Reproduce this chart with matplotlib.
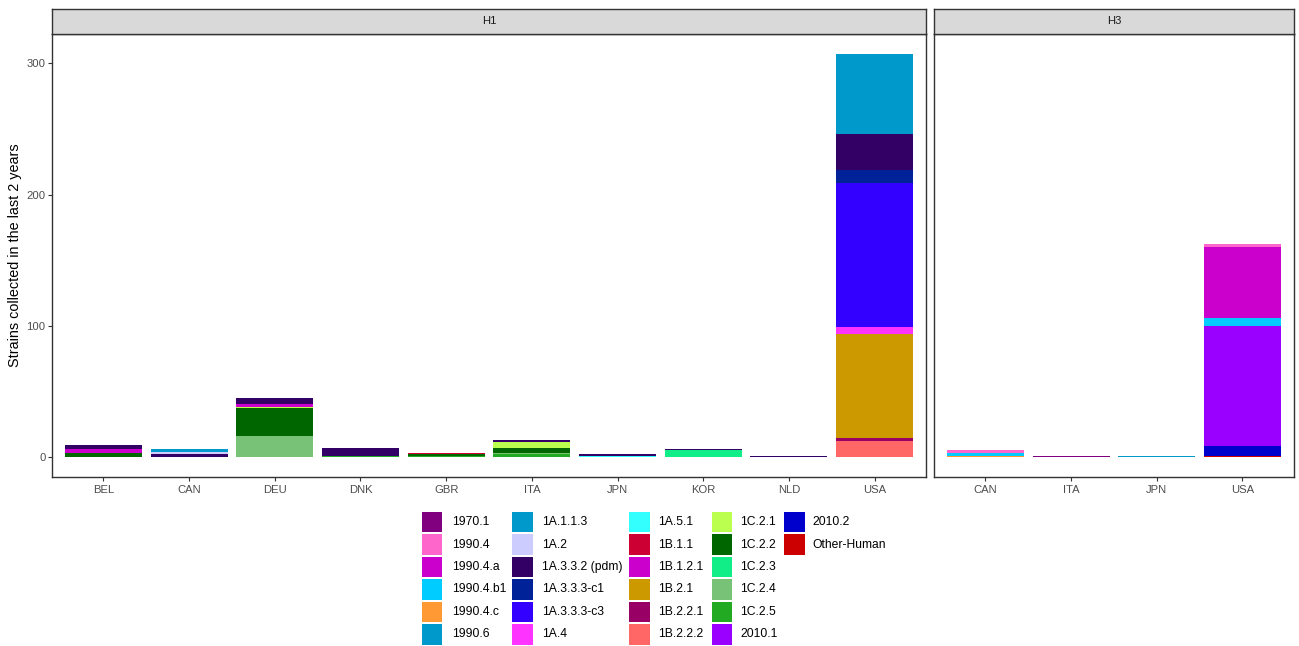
import matplotlib
matplotlib.use("Agg")
import matplotlib.pyplot as plt
from matplotlib.patches import Rectangle

plt.rcParams['font.family'] = ['Liberation Sans', 'DejaVu Sans']

# ---- data -----------------------------------------------------------------
lineages = ["1970.1", "1990.4", "1990.4.a", "1990.4.b1", "1990.4.c", "1990.6",
            "1A.1.1.3", "1A.2", "1A.3.3.2 (pdm)", "1A.3.3.3-c1", "1A.3.3.3-c3",
            "1A.4", "1A.5.1", "1B.1.1", "1B.1.2.1", "1B.2.1", "1B.2.2.1",
            "1B.2.2.2", "1C.2.1", "1C.2.2", "1C.2.3", "1C.2.4", "1C.2.5",
            "2010.1", "2010.2", "Other-Human"]
lineage_colors = ["#800080", "#FF66CC", "#CC00CC", "#00CCFF", "#FF9933", "#0099CC",
                  "#0099CC", "#CCCCFF", "#330066", "#002299", "#3300FF",
                  "#FF33FF", "#33FFFF", "#CC0033", "#CC00CC", "#CC9900", "#990066",
                  "#FF6666", "#BBFF4F", "#006600", "#11EE88", "#77C277", "#22AA22",
                  "#9900FF", "#0000CC", "#CC0000"]

h1_countries = ["BEL", "CAN", "DEU", "DNK", "GBR", "ITA", "JPN", "KOR", "NLD", "USA"]
h1_counts = {
    "1A.1.1.3":       [0, 2, 0, 0, 0, 0, 0, 0, 0, 61],
    "1A.2":           [0, 2, 0, 0, 0, 0, 0, 0, 0, 0],
    "1A.3.3.2 (pdm)": [3, 2, 5, 6, 0, 2, 1, 1, 1, 27],
    "1A.3.3.3-c1":    [0, 0, 0, 0, 0, 0, 0, 0, 0, 10],
    "1A.3.3.3-c3":    [0, 0, 0, 0, 0, 0, 0, 0, 0, 110],
    "1A.4":           [0, 0, 0, 0, 0, 0, 0, 0, 0, 5],
    "1A.5.1":         [0, 0, 0, 0, 0, 0, 1, 0, 0, 0],
    "1B.1.1":         [0, 0, 0, 0, 1, 0, 0, 0, 0, 0],
    "1B.1.2.1":       [3, 0, 2, 0, 0, 0, 0, 0, 0, 0],
    "1B.2.1":         [0, 0, 0, 0, 0, 0, 0, 0, 0, 80],
    "1B.2.2.1":       [0, 0, 0, 0, 0, 0, 0, 0, 0, 2],
    "1B.2.2.2":       [0, 0, 0, 0, 0, 0, 0, 0, 0, 12],
    "1C.2.1":         [0, 0, 1, 0, 0, 4, 0, 0, 0, 0],
    "1C.2.2":         [3, 0, 21, 0, 1, 4, 0, 0, 0, 0],
    "1C.2.3":         [0, 0, 0, 0, 0, 0, 0, 5, 0, 0],
    "1C.2.4":         [0, 0, 16, 0, 0, 1, 0, 0, 0, 0],
    "1C.2.5":         [0, 0, 0, 1, 1, 2, 0, 0, 0, 0],
}

h3_countries = ["CAN", "ITA", "JPN", "USA"]
h3_counts = {
    "1970.1":      [0, 1, 0, 0],
    "1990.4":      [2, 0, 0, 2],
    "1990.4.a":    [0, 0, 0, 54],
    "1990.4.b1":   [2, 0, 0, 6],
    "1990.4.c":    [1, 0, 0, 0],
    "1990.6":      [0, 0, 1, 0],
    "2010.1":      [0, 0, 0, 92],
    "2010.2":      [0, 0, 0, 7],
    "Other-Human": [0, 0, 0, 1],
}

y_ticks = [0, 100, 200, 300]
y_label = "Strains collected in the last 2 years"

# ---- layout helpers -------------------------------------------------------
W, H = 1299, 646
fig = plt.figure(figsize=(W / 100, H / 100), dpi=100)
color_of = dict(zip(lineages, lineage_colors))
EDGE = "#333333"
TXT = "#4D4D4D"
FS_TICK = 8.1
FS_LEG = 8.7


def px_axes(x0, y0, x1, y1):
    return fig.add_axes([x0 / W, 1 - y1 / H, (x1 - x0) / W, (y1 - y0) / H])


totals = []
for counts, n in ((h1_counts, len(h1_countries)), (h3_counts, len(h3_countries))):
    for i in range(n):
        totals.append(sum(v[i] for v in counts.values()))
ymax = max(totals)
ylim = (-0.05 * ymax, 1.05 * ymax)

panel_top, panel_bot = 34, 477
strip_top = 9
left1 = 52
unit = 874 / 10.2
panels = [("H1", h1_countries, h1_counts, left1),
          ("H3", h3_countries, h3_counts, 934)]

for k, (name, countries, counts, x0) in enumerate(panels):
    width = unit * (len(countries) + 0.2)
    ax = px_axes(x0, panel_top, x0 + width, panel_bot)
    xs = list(range(len(countries)))
    bottoms = [0] * len(countries)
    # later lineages sit at the bottom of each stack
    for lin in reversed(lineages):
        if lin not in counts:
            continue
        vals = counts[lin]
        ax.bar(xs, vals, width=0.9, bottom=bottoms, color=color_of[lin],
               linewidth=0)
        bottoms = [b + v for b, v in zip(bottoms, vals)]
    ax.set_xlim(-0.6, len(countries) - 0.4)
    ax.set_ylim(*ylim)
    ax.set_xticks(xs)
    ax.set_xticklabels(countries, fontsize=FS_TICK, color=TXT)
    ax.set_yticks(y_ticks)
    if k == 0:
        ax.set_yticklabels([str(t) for t in y_ticks], fontsize=FS_TICK, color=TXT)
        ax.tick_params(axis="y", length=3.2, width=0.8, color=EDGE, pad=1.5)
    else:
        ax.tick_params(axis="y", left=False, labelleft=False)
    ax.tick_params(axis="x", length=3.2, width=0.8, color=EDGE, pad=2.5)
    for sp in ax.spines.values():
        sp.set_color(EDGE)
        sp.set_linewidth(1.0)
    # facet strip
    sax = px_axes(x0, strip_top, x0 + width, panel_top)
    sax.set_facecolor("#D9D9D9")
    sax.set_xticks([])
    sax.set_yticks([])
    for sp in sax.spines.values():
        sp.set_color(EDGE)
        sp.set_linewidth(1.0)
    sax.text(0.5, 0.5, name, ha="center", va="center", fontsize=FS_TICK,
             color="#1A1A1A", transform=sax.transAxes)

fig.text(15 / W, 1 - ((panel_top + panel_bot) / 2) / H, y_label, rotation=90,
         ha="center", va="center", fontsize=10.4, color="black")

# ---- legend ---------------------------------------------------------------
lax = fig.add_axes([0, 0, 1, 1])
lax.set_xlim(0, W)
lax.set_ylim(H, 0)
lax.axis("off")
key_cols = [421.7, 512.3, 629.3, 711.7, 784.3]
label_cols = [451.7, 541.7, 658.3, 740.0, 812.7]
row0, row_step, key = 511.7, 22.45, 20.7
for i, lin in enumerate(lineages):
    c, r = divmod(i, 6)
    y = row0 + r * row_step
    lax.add_patch(Rectangle((key_cols[c], y), key, key,
                            facecolor=color_of[lin], edgecolor="none"))
    lax.text(label_cols[c], y + key / 2, lin, ha="left", va="center",
             fontsize=FS_LEG, color="black")

fig.savefig("out.png", dpi=100, facecolor="white")
